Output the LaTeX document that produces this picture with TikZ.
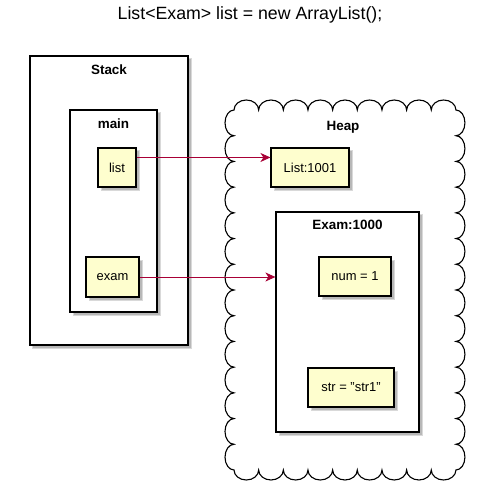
\documentclass[tikz,border=0pt]{standalone}
\usepackage{fontspec}
\setmainfont{Liberation Sans}
\usetikzlibrary{arrows.meta,shadows,calc}
\definecolor{objfill}{HTML}{FEFECE}
\definecolor{arrowred}{HTML}{A80036}
\tikzset{
  shad/.style={general shadow={shadow xshift=3bp,shadow yshift=-3bp,fill=black!28,draw=black!15,line width=1bp}},
  frame/.style={draw=black,line width=1.2bp,fill=white,shad,inner sep=0pt},
  obj/.style={draw=black,line width=1.1bp,fill=objfill,shad,inner sep=0pt,
    font=\fontsize{13}{15}\selectfont},
  flabel/.style={font=\fontsize{13.5}{15}\selectfont\bfseries,inner sep=0pt},
  arr/.style={draw=arrowred,line width=0.9bp,-{Stealth[length=10bp,width=9bp,inset=3bp]}},
}
\begin{document}
\begin{tikzpicture}[x=1bp,y=1bp]
\useasboundingbox (0,0) rectangle (483,-498);
\fill[white] (0,0) rectangle (483,-498);
\node[inner sep=0pt,font=\fontsize{17.8}{20}\selectfont] (title) at (250,-15) {List<Exam> list = new ArrayList();};
% Stack
\node[frame,minimum width=158bp,minimum height=289bp] (stack) at (109,-200.5) {};
\node[flabel] (stacklbl) at (109,-70) {Stack};
\node[frame,minimum width=87bp,minimum height=202bp] (main) at (113.5,-211) {};
\node[flabel] (mainlbl) at (113.5,-124) {main};
\node[obj,minimum width=38bp,minimum height=39bp] (list) at (117,-167.5) {list};
\node[obj,minimum width=53bp,minimum height=40bp] (exam) at (112.5,-277) {exam};
% Heap cloud
\draw[line width=1.1bp,fill=white] (234,-110)
  \foreach \i in {1,...,9} { arc[start angle=180,end angle=0,x radius=12.33,y radius=10] }
  \foreach \i in {1,...,14} { arc[start angle=90,end angle=-90,x radius=9,y radius=12.857] }
  \foreach \i in {1,...,9} { arc[start angle=0,end angle=-180,x radius=12.33,y radius=10] }
  \foreach \i in {1,...,14} { arc[start angle=-90,end angle=-270,x radius=9,y radius=12.857] }
  -- cycle;
\node[flabel] (heaplbl) at (343,-127) {Heap};
\node[obj,minimum width=78bp,minimum height=39bp] (l1001) at (310,-167.5) {List:1001};
\node[frame,minimum width=143bp,minimum height=220bp] (e1000) at (347.5,-322) {};
\node[flabel] (e1000lbl) at (347.5,-225) {Exam:1000};
\node[obj,minimum width=72bp,minimum height=39bp] (num) at (355,-276.5) {num = 1};
\node[obj,minimum width=86bp,minimum height=39bp] (str) at (351,-387.5) {str = "str1"};
% arrows
\draw[arr] ($(list.north east)!.25!(list.south east)$) -- ($(l1001.north west)!.25!(l1001.south west)$);
\draw[arr] (exam.east) -- (exam.east -| e1000.west);
\end{tikzpicture}
\end{document}
